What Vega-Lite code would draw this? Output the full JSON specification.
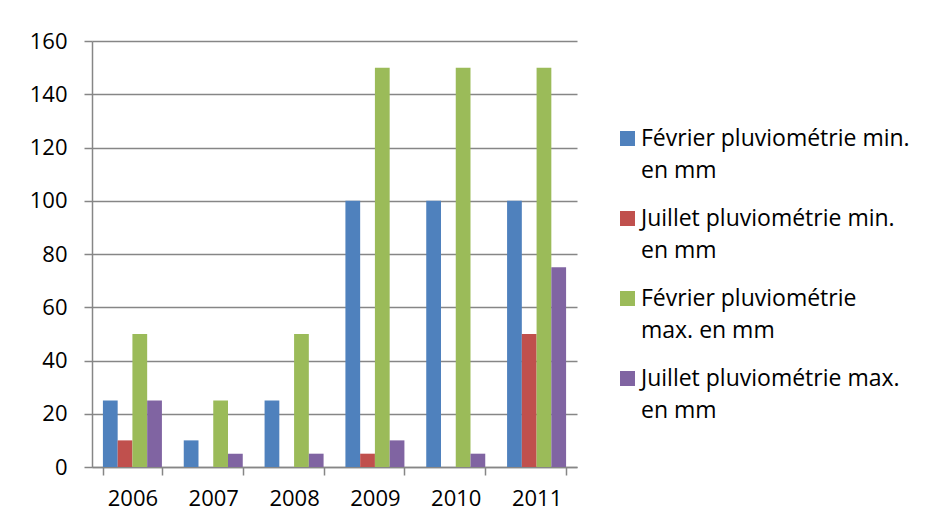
{
  "$schema": "https://vega.github.io/schema/vega-lite/v6.json",
  "width": 485,
  "height": 426,
  "autosize": {"type": "none"},
  "padding": {"left": 92, "top": 41, "right": 349, "bottom": 59},
  "background": "white",
  "config": {
    "view": {"stroke": null},
    "font": "Open Sans"
  },
  "data": {
    "values": [
      {"year": "2006", "series": "Février pluviométrie min. en mm", "value": 25},
      {"year": "2006", "series": "Juillet pluviométrie min. en mm", "value": 10},
      {"year": "2006", "series": "Février pluviométrie max. en mm", "value": 50},
      {"year": "2006", "series": "Juillet pluviométrie max. en mm", "value": 25},
      {"year": "2007", "series": "Février pluviométrie min. en mm", "value": 10},
      {"year": "2007", "series": "Juillet pluviométrie min. en mm", "value": 0},
      {"year": "2007", "series": "Février pluviométrie max. en mm", "value": 25},
      {"year": "2007", "series": "Juillet pluviométrie max. en mm", "value": 5},
      {"year": "2008", "series": "Février pluviométrie min. en mm", "value": 25},
      {"year": "2008", "series": "Juillet pluviométrie min. en mm", "value": 0},
      {"year": "2008", "series": "Février pluviométrie max. en mm", "value": 50},
      {"year": "2008", "series": "Juillet pluviométrie max. en mm", "value": 5},
      {"year": "2009", "series": "Février pluviométrie min. en mm", "value": 100},
      {"year": "2009", "series": "Juillet pluviométrie min. en mm", "value": 5},
      {"year": "2009", "series": "Février pluviométrie max. en mm", "value": 150},
      {"year": "2009", "series": "Juillet pluviométrie max. en mm", "value": 10},
      {"year": "2010", "series": "Février pluviométrie min. en mm", "value": 100},
      {"year": "2010", "series": "Juillet pluviométrie min. en mm", "value": 0},
      {"year": "2010", "series": "Février pluviométrie max. en mm", "value": 150},
      {"year": "2010", "series": "Juillet pluviométrie max. en mm", "value": 5},
      {"year": "2011", "series": "Février pluviométrie min. en mm", "value": 100},
      {"year": "2011", "series": "Juillet pluviométrie min. en mm", "value": 50},
      {"year": "2011", "series": "Février pluviométrie max. en mm", "value": 150},
      {"year": "2011", "series": "Juillet pluviométrie max. en mm", "value": 75}
    ]
  },
  "mark": {"type": "bar"},
  "encoding": {
    "x": {
      "field": "year",
      "type": "nominal",
      "scale": {"paddingInner": 0.27, "paddingOuter": 0.135},
      "axis": {
        "title": null,
        "labelAngle": 0,
        "labelFontSize": 22,
        "labelColor": "black",
        "labelPadding": 13,
        "tickBand": "extent",
        "tickSize": 8,
        "tickColor": "#868686",
        "domainColor": "#868686",
        "domainWidth": 1.5,
        "tickWidth": 1.5
      }
    },
    "xOffset": {
      "field": "series",
      "type": "nominal",
      "sort": ["Février pluviométrie min. en mm", "Juillet pluviométrie min. en mm", "Février pluviométrie max. en mm", "Juillet pluviométrie max. en mm"],
      "scale": {"paddingInner": 0, "paddingOuter": 0}
    },
    "y": {
      "field": "value",
      "type": "quantitative",
      "scale": {"domain": [0, 160], "nice": false},
      "axis": {
        "title": null,
        "values": [0, 20, 40, 60, 80, 100, 120, 140, 160],
        "labelFontSize": 22,
        "labelColor": "black",
        "labelPadding": 17,
        "tickSize": 8,
        "tickColor": "#868686",
        "tickWidth": 1.5,
        "domainColor": "#868686",
        "domainWidth": 1.5,
        "grid": true,
        "gridColor": "#868686",
        "gridWidth": 1.5
      }
    },
    "color": {
      "field": "series",
      "type": "nominal",
      "scale": {
        "domain": ["Février pluviométrie min. en mm", "Juillet pluviométrie min. en mm", "Février pluviométrie max. en mm", "Juillet pluviométrie max. en mm"],
        "range": ["#4F81BD", "#C0504D", "#9BBB59", "#8064A2"]
      },
      "legend": {
        "title": null,
        "orient": "none",
        "legendX": 524,
        "legendY": 86,
        "padding": 0,
        "symbolType": "square",
        "symbolSize": 225,
        "symbolStrokeWidth": 0,
        "symbolOpacity": 1,
        "labelFontSize": 23,
        "labelColor": "black",
        "labelOffset": 2,
        "labelLimit": 400,
        "labelBaseline": "middle",
        "rowPadding": 24,
        "labelExpr": "datum.label == 'Février pluviométrie max. en mm' ? ['Février pluviométrie', 'max. en mm'] : [replace(datum.label, ' en mm', ''), 'en mm']",
        "encode": {"labels": {"update": {"lineHeight": {"value": 32}}}}
      }
    }
  }
}
